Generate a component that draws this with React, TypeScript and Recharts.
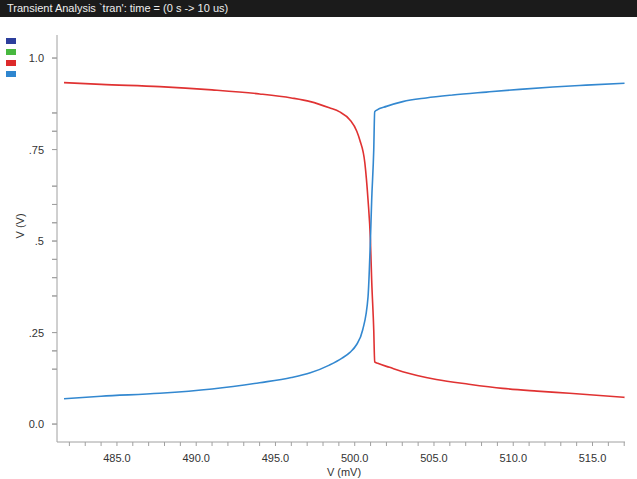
import { CartesianGrid, Line, LineChart, XAxis, YAxis } from "recharts";

// V (mV) sweep vs output voltage
const redX = [481.66, 484, 487.7, 491, 494, 496, 497.2, 498.4, 499.05, 499.7, 500.13, 500.32, 500.64, 500.84, 500.99, 501.07, 501.2, 501.26, 501.45, 502.2, 503.03, 505.15, 507.2, 509.33, 511.5, 513.55, 517.02];
const redV = [0.933, 0.928, 0.922, 0.913, 0.902, 0.891, 0.881, 0.864, 0.853, 0.831, 0.8, 0.776, 0.713, 0.612, 0.503, 0.393, 0.257, 0.17, 0.166, 0.155, 0.143, 0.122, 0.109, 0.0975, 0.09, 0.084, 0.073];

const blueX = [481.66, 484, 487.7, 491, 494, 496, 497.2, 498.4, 499.2, 499.7, 500.1, 500.5, 500.84, 500.99, 501.07, 501.2, 501.26, 501.39, 502, 503.03, 504.5, 506.18, 508.3, 510.4, 512.5, 514.6, 517.02];
const blueV = [0.069, 0.076, 0.084, 0.096, 0.113, 0.127, 0.14, 0.161, 0.18, 0.196, 0.216, 0.257, 0.348, 0.503, 0.612, 0.749, 0.853, 0.858, 0.868, 0.881, 0.891, 0.899, 0.907, 0.9145, 0.921, 0.926, 0.931];

const xMajor = [485, 490, 495, 500, 505, 510, 515];
const xTicks = [482, 483, 484, 485, 486, 487, 488, 489, 490, 491, 492, 493, 494, 495, 496, 497, 498, 499, 500, 501, 502, 503, 504, 505, 506, 507, 508, 509, 510, 511, 512, 513, 514, 515, 516, 517];
const yMajor = [0, 0.25, 0.5, 0.75, 1.0];
const yLabels = ["0.0", ".25", ".5", ".75", "1.0"];
// minor marks as they appear on the original axis
const yTicks = [0, 0.15, 0.2, 0.25, 0.35, 0.4, 0.45, 0.5, 0.55, 0.6, 0.65, 0.75, 0.8, 0.85, 1.0];

const legendColors = ["#2c3e9c", "#47b83f", "#dd2a2b", "#2f86cf"];

const redData = redX.map((x, i) => ({ x, v: redV[i] }));
const blueData = blueX.map((x, i) => ({ x, v: blueV[i] }));

const font = "'Liberation Sans', Arial, sans-serif";
const axisGray = "#a0a0a0";

function XTick(props: any) {
  const { x, y, payload } = props;
  if (!xMajor.includes(payload.value)) return <g />;
  return (
    <text x={x} y={y + 11} textAnchor="middle" fontSize={11} fill="#333" fontFamily={font}>
      {payload.value.toFixed(1)}
    </text>
  );
}

function YTick(props: any) {
  const { x, y, payload } = props;
  const idx = yMajor.findIndex((m) => Math.abs(m - payload.value) < 1e-6);
  return (
    <g>
      <line x1={x + 8} x2={x + 13} y1={y} y2={y} stroke={axisGray} strokeWidth={1} />
      {idx >= 0 && (
        <text x={x} y={y + 4} textAnchor="end" fontSize={11} fill="#333" fontFamily={font}>
          {yLabels[idx]}
        </text>
      )}
    </g>
  );
}

export default function App() {
  return (
    <div style={{ position: "absolute", left: 0, top: 0, width: 637, height: 479, background: "#fff", fontFamily: font }}>
      <div
        style={{
          position: "absolute",
          left: 0,
          top: 0,
          width: 637,
          height: 17,
          background: "#1b1b1b",
          color: "#eee",
          fontSize: 11,
          lineHeight: "17px",
          paddingLeft: 7,
          boxSizing: "border-box",
        }}
      >
        Transient Analysis `tran': time = (0 s -&gt; 10 us)
      </div>
      {legendColors.map((c, i) => (
        <div key={c + i} style={{ position: "absolute", left: 6, top: 38 + i * 11, width: 10, height: 6, background: c }} />
      ))}
      <LineChart width={637} height={479} margin={{ top: 35, right: 12, bottom: 0, left: 0 }}>
        <CartesianGrid stroke="none" />
        <XAxis
          type="number"
          dataKey="x"
          domain={[481.66, 517.05]}
          allowDataOverflow
          ticks={xTicks}
          interval={0}
          padding={{ left: 7, right: 0 }}
          height={37}
          stroke={axisGray}
          tickLine={{ stroke: axisGray }}
          tickSize={4}
          tickMargin={5}
          tick={<XTick />}
          label={{ value: "V (mV)", position: "insideBottom", offset: 3, fontSize: 11, fill: "#333", fontFamily: font, dx: 3 }}
        />
        <YAxis
          type="number"
          dataKey="v"
          domain={[-0.049, 1.063]}
          allowDataOverflow
          ticks={yTicks}
          interval={0}
          width={57}
          stroke={axisGray}
          tickLine={{ stroke: axisGray }}
          tickSize={5}
          tickMargin={8}
          tick={<YTick />}
          label={{ value: "V (V)", angle: -90, position: "insideLeft", offset: 20, fontSize: 11, fill: "#333", fontFamily: font }}
        />
        <Line data={redData} dataKey="v" type="monotone" stroke="#e03232" strokeWidth={1.6} dot={false} isAnimationActive={false} />
        <Line data={blueData} dataKey="v" type="monotone" stroke="#3388d0" strokeWidth={1.6} dot={false} isAnimationActive={false} />
      </LineChart>
    </div>
  );
}
